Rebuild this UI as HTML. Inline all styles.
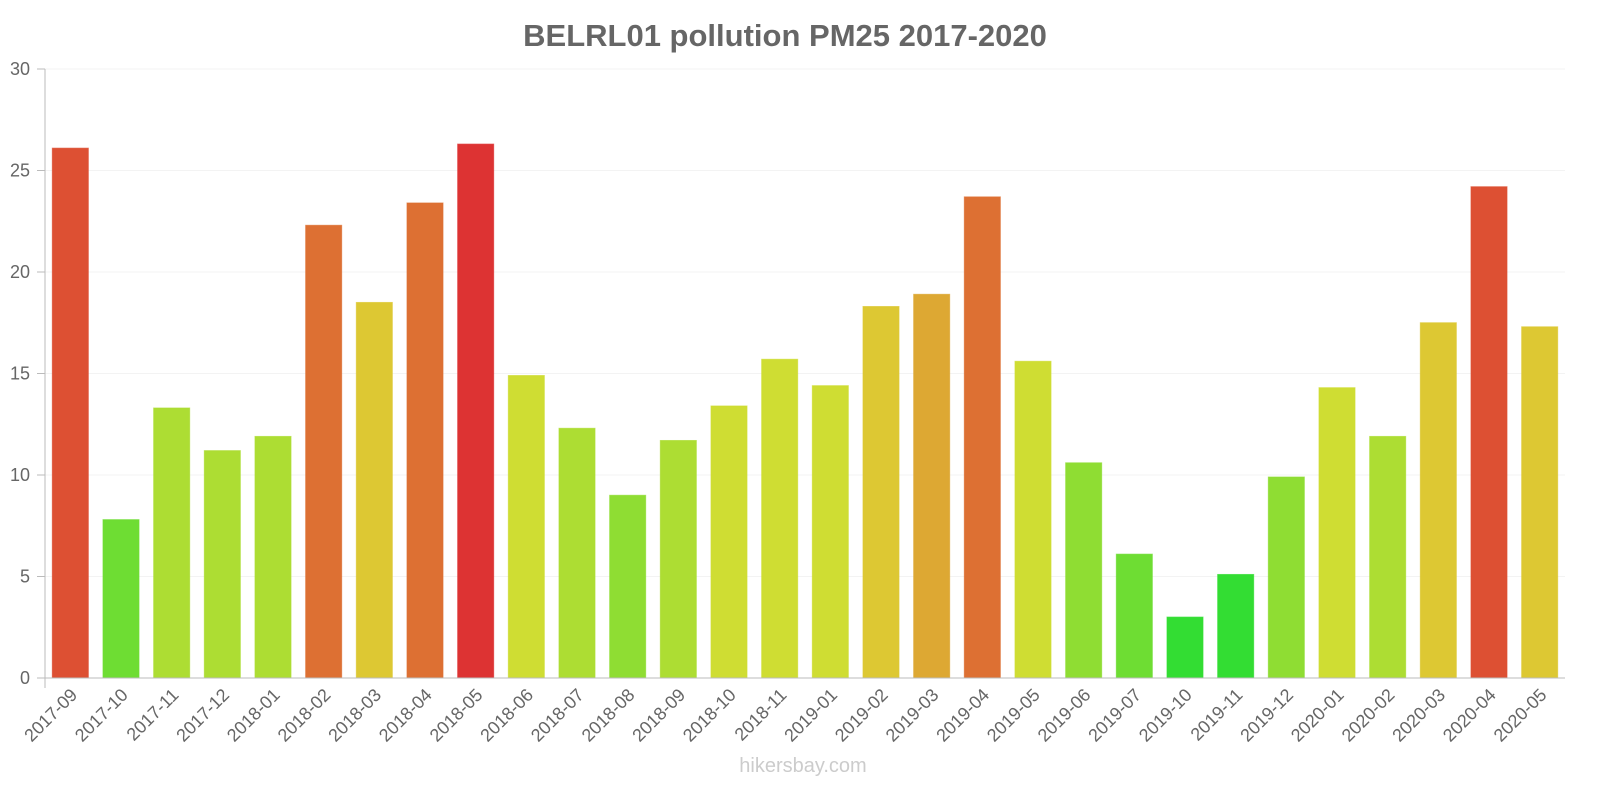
<!DOCTYPE html>
<html><head><meta charset="utf-8"><style>
body{margin:0;background:#fff;}
svg text{font-family:"Liberation Sans",sans-serif;}
</style></head><body>
<svg id="chart" width="1600" height="800">
<text x="785" y="46" text-anchor="middle" font-size="31" font-weight="bold" fill="#666">BELRL01 pollution PM25 2017-2020</text>
<g id="grid"></g><g id="bars"></g><g id="axes"></g>
<text x="803" y="772" text-anchor="middle" font-size="20" fill="#ccc">hikersbay.com</text>
</svg>
<script>
const categories=["2017-09","2017-10","2017-11","2017-12","2018-01","2018-02","2018-03","2018-04","2018-05","2018-06","2018-07","2018-08","2018-09","2018-10","2018-11","2019-01","2019-02","2019-03","2019-04","2019-05","2019-06","2019-07","2019-10","2019-11","2019-12","2020-01","2020-02","2020-03","2020-04","2020-05"];
const values=[26.1,7.8,13.3,11.2,11.9,22.3,18.5,23.4,26.3,14.9,12.3,9.0,11.7,13.4,15.7,14.4,18.3,18.9,23.7,15.6,10.6,6.1,3.0,5.1,9.9,14.3,11.9,17.5,24.2,17.3];
const yTicks=[0,5,10,15,20,25,30];
const NS="http://www.w3.org/2000/svg";
const L=45,R=1565,T=69,B=678,YMAX=30;
const y=v=>B-(v/YMAX)*(B-T);
const step=(R-L)/categories.length;
const xc=i=>L+step*(i+0.5);
function color(v){
 if(v>=26.2)return"#dd3333";
 if(v>=24)return"#dd5033";
 if(v>=21)return"#dd7033";
 if(v>=18.7)return"#dda833";
 if(v>=16)return"#ddc833";
 if(v>=13.35)return"#cfdd33";
 if(v>=11)return"#addd33";
 if(v>=8.5)return"#8fdd33";
 if(v>=5.5)return"#6edd33";
 return"#33dd33";
}
function mk(tag,attrs,parent){const e=document.createElementNS(NS,tag);for(const k in attrs)e.setAttribute(k,attrs[k]);parent.appendChild(e);return e;}
const grid=document.getElementById('grid'),bars=document.getElementById('bars'),axes=document.getElementById('axes');
yTicks.forEach(t=>{
 const g=mk('line',{x1:L,x2:R,y1:y(t),y2:y(t),stroke:'#f3f3f3'},grid);
 
 
 const tx=mk('text',{x:30,y:y(t)+6,'text-anchor':'end','font-size':18,fill:'#666'},axes);
 tx.textContent=t;
 
 
 mk('line',{x1:37,x2:L,y1:y(t),y2:y(t),stroke:'#bbb'},axes);
});
values.forEach((v,i)=>{
 const c=color(v);
 const r=mk('rect',{x:xc(i)-18,y:y(v),width:36,height:B-y(v),fill:c,stroke:c,'stroke-opacity':0.7},bars);
 
 
 const tx=mk('text',{x:xc(i)+8,y:B+18,'text-anchor':'end','font-size':18,fill:'#666',transform:`rotate(-45 ${xc(i)+8} ${B+18})`},axes);
 tx.textContent=categories[i];
 
 
});
mk('line',{x1:L,x2:L,y1:T,y2:B+10,stroke:'#bbb'},axes);
mk('line',{x1:L-8,x2:R,y1:B,y2:B,stroke:'#bbb'},axes);
</script>
</body></html>
